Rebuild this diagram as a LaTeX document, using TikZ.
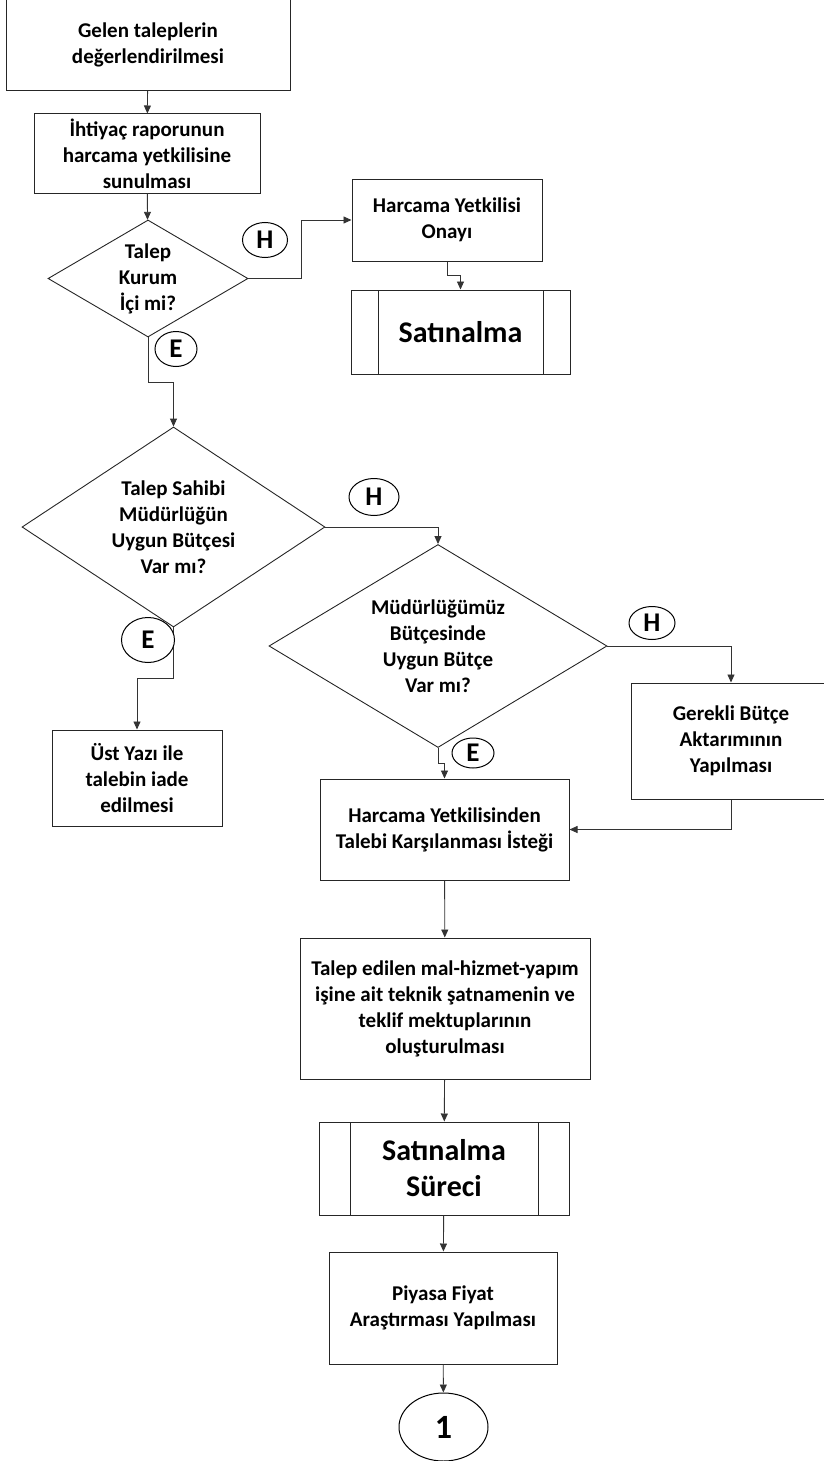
\documentclass[tikz,border=0pt]{standalone}
\usepackage{fontspec}
\setmainfont{Carlito}
\usetikzlibrary{arrows.meta,shapes.geometric}

\begin{document}
\begin{tikzpicture}[->,>={Triangle[length=8pt,width=7pt]},x=1pt,y=-1pt,
    every node/.style={font=\fontsize{21}{26}\selectfont\bfseries,align=center,inner sep=0pt},
    procbox/.style={draw=black!85,line width=1pt,rectangle,fill=white},
    decision/.style={draw=black!85,line width=0.9pt,diamond,fill=white},
    subproc/.style={procbox,font=\fontsize{30}{36}\selectfont\bfseries,
        path picture={\draw[-,black!85,line width=1pt]
            ([xshift=#1]path picture bounding box.north west) -- ([xshift=#1]path picture bounding box.south west)
            ([xshift=-#1]path picture bounding box.north east) -- ([xshift=-#1]path picture bounding box.south east);}},
    answer/.style={draw=black,line width=1pt,ellipse,fill=white,font=\fontsize{27}{30}\selectfont\bfseries},
    connector/.style={draw=black!80,line width=0.9pt}]
    \useasboundingbox (0,0) rectangle (824,1461);

    % Process steps
    \node[procbox,minimum width=284pt,minimum height=92pt] (gelen) at (148,44.5) {Gelen taleplerin\\de\u{g}erlendirilmesi};
    \node[procbox,minimum width=226pt,minimum height=79pt] (rapor) at (147,153.5) {İhtiyaç raporunun\\harcama yetkilisine\\sunulması};
    \node[procbox,minimum width=190pt,minimum height=82pt] (onay) at (447,220) {Harcama Yetkilisi\\Onayı};
    \node[subproc=27pt,minimum width=219pt,minimum height=84pt] (satin) at (460.5,332) {Satınalma};
    \node[procbox,minimum width=170pt,minimum height=96pt] (iade) at (137,778) {Üst Yazı ile\\talebin iade\\edilmesi};
    \node[procbox,minimum width=200pt,minimum height=116pt] (aktarim) at (731,741) {Gerekli Bütçe\\Aktarımının\\Yapılması};
    \node[procbox,minimum width=249pt,minimum height=101pt] (istek) at (444.5,829.5) {Harcama Yetkilisinden\\Talebi Karşılanması İsteği};
    \node[procbox,minimum width=290pt,minimum height=141pt] (sartname) at (445,1008.5) {Talep edilen mal-hizmet-yapım\\işine ait teknik şatnamenin ve\\teklif mektuplarının\\oluşturulması};
    \node[subproc=31pt,minimum width=250pt,minimum height=93pt] (surec) at (444,1168.5) {Satınalma\\Süreci};
    \node[procbox,minimum width=228pt,minimum height=112pt] (piyasa) at (443,1308) {Piyasa Fiyat\\Araştırması Yapılması};
    \node[answer,minimum width=89pt,minimum height=68pt,font=\fontsize{34}{38}\selectfont\bfseries] (bir) at (443.5,1427) {1};

    % Decisions
    \node[decision,shape aspect=1.7,minimum width=200pt,minimum height=117pt] (kurum) at (148,278.5) {Talep\\Kurum\\İçi mi?};
    \node[decision,shape aspect=1.5,minimum width=303pt,minimum height=200pt] (sahip) at (173.5,527) {Talep Sahibi\\Müdürlüğün\\Uygun Bütçesi\\Var mı?};
    \node[decision,shape aspect=1.66,minimum width=338pt,minimum height=203pt] (mudur) at (438,646) {Müdürlüğümüz\\Bütçesinde\\Uygun Bütçe\\Var mı?};

    % Connectors
    \path[connector] (gelen) -- (rapor);
    \path[connector] (rapor) -- (kurum);
    \path[connector] (kurum.east) -- ++(53,0) |- (onay.west);
    \path[connector] (onay.south) -- ++(0,14) -| (satin.north);
    \path[connector] (kurum.south) -- ++(0,45) -| (sahip.north);
    \path[connector] (sahip.east) -| (mudur.north);
    \path[connector] (sahip.south) -- ++(0,51) -| (iade.north);
    \path[connector] (mudur.east) -| (aktarim.north);
    \path[connector] (mudur.south) -- ++(0,15) -| (istek.north);
    \path[connector] (aktarim.south) |- (istek.east);
    \path[connector] (istek) -- (sartname);
    \path[connector] (sartname) -- (surec);
    \path[connector] (surec) -- (piyasa);
    \path[connector] (piyasa) -- (bir);

    % Yes / no labels
    \node[answer,minimum width=45pt,minimum height=35pt] (h1) at (265,240) {H};
    \node[answer,minimum width=42pt,minimum height=35pt] (e1) at (176,349) {E};
    \node[answer,minimum width=50pt,minimum height=37pt] (h2) at (374,497) {H};
    \node[answer,minimum width=53pt,minimum height=45pt] (e2) at (148,640) {E};
    \node[answer,minimum width=46pt,minimum height=33pt] (h3) at (652,623) {H};
    \node[answer,minimum width=42pt,minimum height=30pt] (e3) at (473,753) {E};
\end{tikzpicture}
\end{document}
